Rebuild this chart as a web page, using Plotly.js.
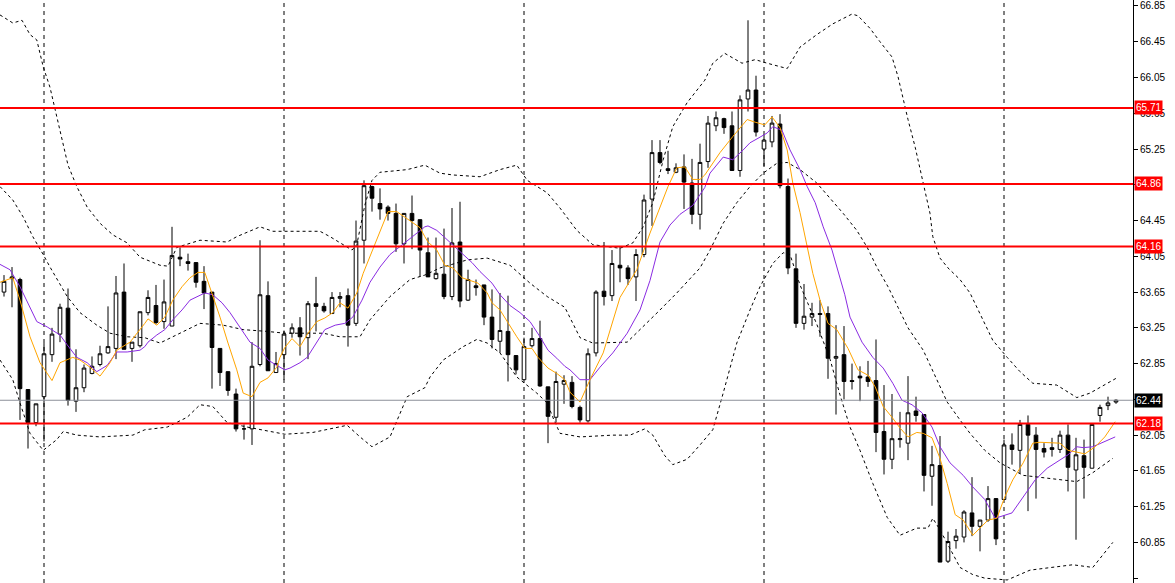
<!DOCTYPE html>
<html>
<head>
<meta charset="utf-8">
<script src="https://cdn.plot.ly/plotly-3.0.1.min.js"></script>
<style>
html,body{margin:0;padding:0;background:#fff;}
#chart{width:1175px;height:583px;}
</style>
</head>
<body>
<div id="chart"></div>
<script>
// ---- candle data (H4 bars, oldest -> newest) ----
const open = [63.65,63.80,63.79,62.56,62.19,62.48,62.95,63.18,63.47,62.43, 62.58,62.74,62.84,62.97,63.02,63.65,63.02,63.05,63.42,63.50, 63.32,63.27,64.04,63.99,63.98,63.77,63.65,63.02,62.76,62.51, 62.12,62.12,62.84,63.61,62.75,62.95,63.19,63.25,63.14,63.52, 63.49,63.41,63.58,63.61,63.30,64.23,64.83,64.64,64.60,64.53, 64.19,64.53,64.46,64.09,63.80,63.85,63.60,64.21,63.56,63.72, 63.73,63.37,63.10,63.21,62.94,62.67,63.05,63.13,62.59,62.25, 62.62,62.64,62.36,62.21,62.97,63.66,63.61,63.95,63.92,63.82, 64.07,64.69,65.21,65.03,64.99,65.05,64.87,64.52,65.11,65.51, 65.59,65.51,65.01,65.81,65.91,65.25,65.33,65.53,64.83,63.91, 63.30,63.37,63.41,63.41,62.91,62.95,62.66,62.71,62.70,62.66, 62.09,61.78,62.00,61.96,62.32,62.28,61.59,61.71,60.64,60.87, 60.91,61.18,61.03,61.10,61.34,61.33,61.94,61.88,62.17,62.05, 61.90,61.91,61.89,62.05,61.66,61.82,61.68,62.27,62.38,62.42];
const high = [63.84,63.93,63.81,62.56,62.40,63.08,63.25,63.52,63.69,63.01, 62.84,62.93,63.05,63.49,63.83,63.97,63.09,63.43,63.67,63.73, 63.79,64.38,64.15,64.08,63.98,63.94,63.65,63.02,62.76,62.57, 62.17,63.09,64.23,63.77,62.98,63.22,63.30,63.37,63.55,63.82, 63.53,63.65,63.65,63.69,64.45,64.90,64.84,64.81,64.62,64.64, 64.53,64.73,64.46,64.26,64.26,64.36,64.59,64.66,63.90,63.79, 63.73,63.68,63.64,63.61,62.94,63.14,63.25,63.33,62.59,62.76, 62.72,62.71,62.38,63.02,63.67,64.21,64.12,64.16,63.95,64.13, 64.74,65.35,65.35,65.23,65.09,65.19,65.14,65.31,65.62,65.67, 65.60,65.67,65.85,66.69,66.07,65.41,65.62,65.64,64.92,64.08, 63.74,63.53,63.56,63.49,63.28,63.27,62.85,62.82,62.88,63.12, 62.61,62.51,62.31,62.71,62.48,62.28,61.93,62.04,60.97,61.00, 61.21,61.58,61.10,61.48,61.34,62.00,62.07,62.22,62.27,62.14, 61.96,62.02,62.10,62.17,62.02,62.00,62.17,62.39,62.48,62.45];
const low = [63.60,63.48,62.22,61.90,62.15,61.98,62.87,63.09,62.38,62.31, 62.53,62.73,62.82,62.96,62.90,63.01,62.87,63.03,63.39,63.29, 63.24,63.27,63.94,63.89,63.70,63.46,62.57,62.60,62.49,62.09, 62.00,61.94,62.82,62.77,62.75,62.67,63.14,62.94,62.90,63.21, 63.42,63.41,63.48,63.04,63.27,63.97,64.55,64.46,64.45,64.10, 63.97,64.13,63.82,63.82,63.79,63.57,63.56,63.48,63.55,63.61, 63.28,63.02,62.97,62.65,62.73,62.67,63.03,62.59,61.96,62.19, 62.40,62.35,62.19,62.19,62.93,63.50,63.55,63.76,63.73,63.55, 64.04,64.39,65.08,64.97,64.98,64.58,64.41,64.35,65.04,65.45, 65.42,65.01,64.94,65.67,65.39,65.06,65.27,64.81,63.85,63.25, 63.23,63.27,63.15,62.68,62.28,62.45,62.56,62.43,62.59,61.86, 61.61,61.67,61.91,61.77,62.20,61.42,61.26,60.63,60.62,60.78, 60.85,60.92,60.75,61.08,60.82,61.33,61.72,61.62,61.20,61.34, 61.80,61.81,61.85,61.42,60.88,61.34,61.68,62.20,62.33,62.40];
const close = [63.77,63.82,62.57,62.19,62.40,62.96,63.18,63.48,62.44,62.58, 62.80,62.82,62.96,63.04,63.64,63.01,63.09,63.43,63.59,63.31, 63.54,64.06,64.02,63.97,63.76,63.64,63.03,62.75,62.55,62.12, 62.12,62.82,63.62,62.77,62.85,63.18,63.25,63.15,63.52,63.49, 63.44,63.59,63.60,63.28,64.22,64.84,64.70,64.58,64.53,64.19, 64.53,64.45,64.12,63.82,63.86,63.60,64.20,63.55,63.79,63.70, 63.37,63.12,63.22,62.95,62.78,63.04,63.13,62.60,62.26,62.65, 62.66,62.37,62.22,62.96,63.65,63.60,63.97,63.92,63.80,64.07, 64.68,65.21,65.10,65.01,65.04,64.88,64.52,65.10,65.54,65.60, 65.49,65.01,65.80,65.91,65.44,65.35,65.54,64.84,63.92,63.30, 63.38,63.41,63.40,62.91,62.93,62.65,62.65,62.69,62.65,62.08, 61.78,62.01,62.01,62.30,62.27,61.60,61.72,60.63,60.86,60.92, 61.19,61.03,61.10,61.34,60.89,61.94,61.89,62.17,62.05,61.89, 61.86,61.89,62.05,61.69,61.83,61.69,62.17,62.36,62.41,62.44];
const bars = open.map((_, i) => i);

// ---- Bollinger bands (x in bar units) ----
const upperX = [-0.5,1.1,2.25,3.25,4.1,4.9,5.75,6.4,7.25,8,9.1,10.4,12,13.6,15.4,17,19.5,20.5,21.6,24.5,27.9,29.1,32,33.6,35.1,39.5,40.75,42.9,43.5,44.1,45.1,46,47,50.4,52.6,54.5,56.1,59.5,62,64.1,65.4,67.9,69.5,71.6,73.6,77,78.6,79.9,81.1,82.4,83.6,85.4,87.6,88.6,90.1,92.25,93.9,95.4,97.9,99.5,101.6,103.6,106,106.75,108.25,109.5,111,111.75,112.4,113,113.9,114.9,115.75,116.1,117,118,119.5,120.75,121.75,122.9,123.6,125.4,127,128.6,131.6,134.1,135.75,139.1];
const upperY = [66.75,66.66,66.69,66.53,66.47,66.17,65.94,65.69,65.38,65.07,64.83,64.60,64.42,64.29,64.20,64.04,63.95,63.94,64.15,64.23,64.21,64.27,64.38,64.33,64.33,64.33,64.27,64.15,64.12,64.18,64.62,64.90,64.99,65.02,65.07,64.98,64.96,64.94,65.02,65.07,64.90,64.76,64.59,64.34,64.18,64.14,64.20,64.38,64.65,65.13,65.50,65.77,66.02,66.21,66.32,66.21,66.25,66.21,66.15,66.39,66.53,66.65,66.76,66.74,66.60,66.45,66.28,66.06,65.80,65.58,65.27,64.88,64.53,64.27,64.03,63.92,63.79,63.64,63.45,63.25,63.11,62.92,62.76,62.63,62.61,62.47,62.52,62.69];
const midX = [-0.5,1.1,2.4,3.6,4.9,5.75,7.9,9.5,11.6,13.25,15.4,17.6,19.5,22,24.5,27.4,29.9,32.9,35.1,39.9,42,44.5,45.75,48.25,50.75,52.6,54.5,57.9,60.4,63.25,65.75,67.9,70.1,72,73.6,77.9,79.9,82,84.1,87,88.25,89.9,91.6,93.25,94.9,96.6,97.9,99.5,101.6,103.5,104.9,106.6,107.9,109.1,110.5,111.75,113,114.9,116.6,117.9,119.5,120.75,122.6,124.5,127.4,130.4,134.1,136.1,138.6];
const midY = [64.83,64.68,64.49,64.27,64.07,63.93,63.60,63.42,63.28,63.19,63.15,63.14,63.08,63.19,63.30,63.28,63.23,63.21,63.19,63.19,63.15,63.15,63.34,63.60,63.79,63.84,63.92,64.01,64.03,63.95,63.75,63.60,63.48,63.14,63.08,63.09,63.26,63.45,63.64,63.92,64.12,64.42,64.65,64.83,64.98,65.09,65.10,65.02,64.87,64.68,64.53,64.34,64.15,63.93,63.71,63.48,63.25,63.00,62.67,62.42,62.22,62.07,61.88,61.74,61.60,61.57,61.53,61.63,61.79];
const lowerX = [-0.5,1.1,2,3.25,4.9,6.6,7.4,9.1,12,16.1,17.6,20.4,22.9,24.5,26.1,27.9,30.4,32.9,35.1,38.6,42.9,44.5,46,48.25,50.4,52.6,53.25,54.9,57.4,59.1,60.4,62,64.1,66.6,67.9,68.6,69.5,72,76.1,78.25,80.1,81.1,82.6,83.6,85.4,87,88.6,89.9,91.6,93.25,94.5,96.1,97.4,98.25,99.5,101.6,103.25,104.5,105.75,107,108.6,110.4,112,114.1,115.5,116.1,117,117.9,119.5,121.1,122.6,125.4,128.25,133.6,136.1,138.6];
const lowerY = [62.89,62.67,62.41,62.07,61.88,62.00,62.09,62.05,62.03,62.05,62.11,62.14,62.25,62.39,62.37,62.19,62.14,62.10,62.06,62.08,62.16,62.03,61.92,62.03,62.48,62.58,62.70,62.89,63.04,63.12,63.08,62.97,62.70,62.52,62.41,62.25,62.07,62.03,62.05,62.05,62.12,62.05,61.82,61.72,61.78,61.94,62.11,62.52,63.08,63.45,63.71,63.97,64.09,64.07,63.73,63.29,62.90,62.50,62.14,61.88,61.51,61.13,60.93,61.01,61.01,61.12,60.99,60.84,60.57,60.49,60.45,60.43,60.54,60.60,60.57,60.85];

// ---- moving averages ----
const fastX = [-0.5,0.4,1.1,2,3.25,4.5,6,7,8.6,9.5, 10.75,12,13.25,14.1,15.75,17.6,18,19.1,20.1,21.1, 22.25,23.25,24.25,25.1,26,27,28,29.1,29.9,31, 32,33,34.1,34.5,35.1,36,37,38,39.1,40.1, 41.1,42,43,44.1,44.9,46.1,47,48,49.1,50.1, 51.1,52,52.6,53,54.1,55.1,56.1,57.25,58.25,59.25, 60.4,61,62,63,64.1,65.1,66,66.75,68,69.1, 70.1,70.75,72,73.25,74.9,77,79.1,80.75,82,83, 84.1,85.1,86.1,87,87.6,88.25,89.5,91.1,92.9,93.9, 95.1,96,97,97.9,98.6,99.5,100.4,101.1,102,103, 104.1,105.1,105.5,106.75,108,108.9,109.9,111,112,113, 114.1,114.9,116,117,117.9,118.9,119.9,121.1,122.6,123, 124.1,125.1,126.1,127.4,128.6,129.5,132,133,134.1,135.1, 136.4,137.6,138.9];
const fastY = [63.76,63.79,63.81,63.56,63.15,62.86,62.66,62.86,62.92,62.89, 62.81,62.71,62.86,63.00,63.09,63.30,63.35,63.28,63.37,63.56, 63.71,63.81,63.87,63.87,63.64,63.37,63.08,62.78,62.52,62.48, 62.64,62.69,62.81,62.92,63.03,63.13,63.04,63.19,63.32,63.36, 63.42,63.53,63.47,63.64,63.86,64.12,64.32,64.55,64.55,64.49, 64.42,64.37,64.27,64.21,64.12,63.95,63.92,63.81,63.78,63.75, 63.64,63.53,63.45,63.30,63.15,63.02,63.02,62.92,62.80,62.74, 62.67,62.53,62.42,62.67,62.97,63.59,63.90,64.31,64.60,64.83, 65.04,65.05,64.91,64.91,64.96,65.05,65.21,65.39,65.58,65.55, 65.52,65.61,65.49,65.24,64.87,64.54,64.15,63.86,63.56,63.30, 63.23,63.08,63.02,62.78,62.72,62.59,62.37,62.25,62.13,62.03, 62.08,62.07,62.02,61.79,61.51,61.16,61.10,60.93,61.07,61.10, 61.12,61.36,61.55,61.74,61.96,61.97,61.96,61.88,61.86,61.84, 61.92,62.03,62.20];
const slowX = [-0.5,0.75,2,3.25,4.1,5.4,7,7.9,9.1,10.4, 11.6,12.9,14.1,15.4,17,17.6,18,19.1,20.1,21.1, 22.25,23.25,24.25,25.1,26.1,27.25,28.25,29.5,30.75,32, 33,34.1,35.1,35.75,37,37.9,39.1,40.1,41.4,42.6, 43.6,44.75,45.75,47,48.25,49.25,50.4,51.6,52.6,53, 54.1,55.1,56.1,57.25,58.5,59.5,61,62,63.25,64.5, 65.75,67,68,69.1,70.1,70.75,72,73.25,74.5,76.1, 77.9,79.5,80.75,82,83.25,84.5,86.1,87.6,88.25,89.9, 91.1,92.4,93.25,94.25,95.4,96.1,97.25,98.25,99.5,100.4, 101.4,102.4,103.5,105.1,105.75,107.25,108.6,109.9,111.1,112.25, 113.5,114.75,116,117,118.25,119.9,121.1,122.6,123.9,126, 127.4,128.9,130.4,132,133,134.1,134.9,136.1,137.4,138.9];
const slowY = [63.96,63.90,63.71,63.48,63.32,63.26,63.17,63.06,62.92,62.86, 62.76,62.83,62.98,62.98,63.00,63.04,63.09,63.17,63.23,63.34, 63.45,63.56,63.60,63.64,63.62,63.53,63.42,63.25,63.09,63.02, 62.89,62.83,62.78,62.80,62.86,62.92,63.09,63.23,63.28,63.30, 63.37,63.56,63.76,63.93,64.07,64.14,64.23,64.31,64.38,64.39, 64.34,64.26,64.18,64.09,63.98,63.88,63.75,63.62,63.50,63.42, 63.32,63.15,63.00,62.91,62.82,62.78,62.67,62.67,62.81,62.97, 63.19,63.45,63.78,64.21,64.40,64.52,64.62,64.82,64.98,65.16, 65.13,65.24,65.32,65.37,65.43,65.50,65.46,65.24,65.02,64.83, 64.65,64.38,64.12,63.62,63.37,63.09,62.92,62.80,62.63,62.44, 62.39,62.30,62.14,61.92,61.74,61.60,61.47,61.33,61.12,61.18, 61.36,61.55,61.68,61.77,61.83,61.92,61.91,61.92,61.97,62.03];

// ---- price scale ticks (labels hidden under a price box are left blank) ----
const tickVals = [60.45,60.85,61.25,61.65,62.05,62.45,62.85,63.25,63.65,64.05,64.45,64.85,65.25,65.65,66.05,66.45,66.85];
const tickText = ['60.45','60.85','61.25','61.65','62.05','','62.85','63.25','63.65','64.05','64.45','','65.25','65.65','66.05','66.45','66.85'];

// ---- levels / markers ----
const levels = [65.71, 64.86, 64.16, 62.18];
const lastPrice = 62.44;
const separators = [5, 35, 65, 95, 125];

const FONT = "'Liberation Sans', Arial, sans-serif";

const traces = [
  {type:'scatter', mode:'lines', x:upperX, y:upperY, line:{color:'#000', width:1, dash:'3px,3px'}, hoverinfo:'skip'},
  {type:'scatter', mode:'lines', x:midX, y:midY, line:{color:'#000', width:1, dash:'3px,3px'}, hoverinfo:'skip'},
  {type:'scatter', mode:'lines', x:lowerX, y:lowerY, line:{color:'#000', width:1, dash:'3px,3px'}, hoverinfo:'skip'},
  {type:'scatter', mode:'lines', x:slowX, y:slowY, line:{color:'#8A2BE2', width:1}, hoverinfo:'skip'},
  {type:'scatter', mode:'lines', x:fastX, y:fastY, line:{color:'#FFA500', width:1}, hoverinfo:'skip'},
  {type:'candlestick', x:bars, open:open, high:high, low:low, close:close,
   increasing:{line:{color:'#000', width:1}, fillcolor:'#fff'},
   decreasing:{line:{color:'#000', width:1}, fillcolor:'#000'},
   whiskerwidth:0, hoverinfo:'skip'}
];

const shapes = [];
separators.forEach(s => shapes.push({type:'line', xref:'x', yref:'paper', x0:s, x1:s, y0:0, y1:1,
  line:{color:'#000', width:1, dash:'4px,4px'}, layer:'below'}));
shapes.push({type:'line', xref:'paper', yref:'y', x0:0, x1:1, y0:lastPrice, y1:lastPrice,
  line:{color:'#8c9099', width:1}});
levels.forEach(v => shapes.push({type:'line', xref:'paper', yref:'y', x0:0, x1:1, y0:v, y1:v,
  line:{color:'#ff0000', width:2}}));

const annotations = levels.map(v => ({
  xref:'paper', yref:'y', x:1, y:v, xanchor:'left', yanchor:'middle', xshift:1,
  text:v.toFixed(2), showarrow:false, bgcolor:'#ff0000', borderpad:1,
  font:{family:FONT, size:10, color:'#fff'}
}));
annotations.push({xref:'paper', yref:'y', x:1, y:lastPrice, xanchor:'left', yanchor:'middle', xshift:1,
  text:lastPrice.toFixed(2), showarrow:false, bgcolor:'#000', borderpad:1,
  font:{family:FONT, size:10, color:'#fff'}});

const layout = {
  width:1175, height:583,
  margin:{l:0, r:42, t:0, b:0, pad:0},
  paper_bgcolor:'#fff', plot_bgcolor:'#fff',
  showlegend:false,
  boxgap:0.35,
  font:{family:FONT, size:10, color:'#000'},
  xaxis:{range:[-0.5, 141.125], showgrid:false, zeroline:false, showline:false,
         showticklabels:false, ticks:'', rangeslider:{visible:false}, fixedrange:true},
  yaxis:{side:'right', range:[60.396, 66.917], showgrid:false, zeroline:false,
         showline:true, linecolor:'#000', linewidth:1, ticks:'outside', ticklen:4, tickcolor:'#000',
         tickmode:'array', tickvals:tickVals, ticktext:tickText, fixedrange:true,
         tickfont:{family:FONT, size:10, color:'#000'}},
  shapes:shapes,
  annotations:annotations
};

Plotly.newPlot('chart', traces, layout, {displayModeBar:false, staticPlot:true});
</script>
</body>
</html>
